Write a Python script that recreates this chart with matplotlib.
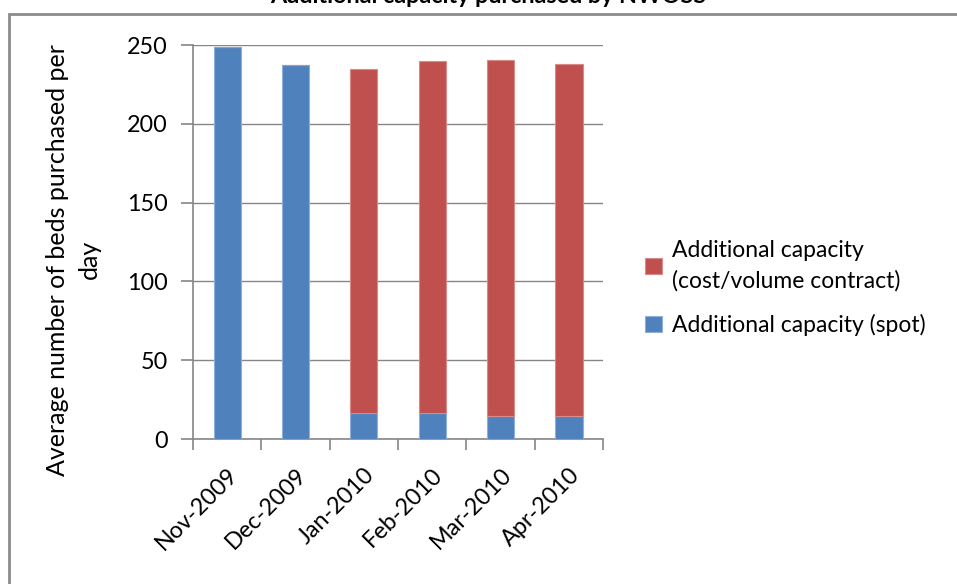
import numpy as np
import matplotlib.pyplot as plt
from matplotlib.patches import Rectangle

months = ['Nov-2009', 'Dec-2009', 'Jan-2010', 'Feb-2010', 'Mar-2010', 'Apr-2010']
spot = [248.5, 237.3, 16.3, 16.3, 14.8, 14.8]
contract = [0, 0, 218.3, 223.3, 225.7, 223.1]

blue = '#4F81BD'
red = '#C0504D'
grey = '#868686'
fs = 16.8

plt.rcParams['font.family'] = ['Lato', 'DejaVu Sans']

fig = plt.figure(figsize=(9.57, 5.84), dpi=100)
ax = fig.add_axes([193 / 957, 1 - 439 / 584, 410 / 957, 394 / 584])

x = np.arange(len(months))
ax.bar(x, spot, width=0.4, color=blue, edgecolor='#8fb0da', linewidth=0.8,
       label='Additional capacity (spot)', zorder=3)
ax.bar(x, contract, width=0.4, bottom=spot, color=red, edgecolor='#d88a88',
       linewidth=0.8, label='Additional capacity\n(cost/volume contract)', zorder=3)

ax.set_xlim(-0.5, len(months) - 0.5)
ax.set_ylim(0, 250)
ax.set_yticks(np.arange(0, 251, 50))
ax.yaxis.grid(True, color=grey, linewidth=1)
ax.set_axisbelow(True)

for side in ['top', 'right']:
    ax.spines[side].set_visible(False)
for side in ['left', 'bottom']:
    ax.spines[side].set_color(grey)
    ax.spines[side].set_linewidth(1.2)

# category labels at bar centres, tick marks between categories
ax.set_xticks(x)
ax.set_xticklabels(months, rotation=45, ha='right', rotation_mode='anchor')
ax.set_xticks(np.arange(-0.5, len(months)), minor=True)
ax.tick_params(axis='x', which='major', length=0, pad=18, labelsize=fs)
ax.tick_params(axis='x', which='minor', length=8, width=1.2, color=grey)
ax.tick_params(axis='y', length=9, width=1.2, color=grey, pad=9, labelsize=fs)

ax.set_ylabel('Average number of beds purchased per\nday', fontsize=18,
              linespacing=1.45)
ax.yaxis.set_label_coords(-0.225, 0.455)

handles, labels = ax.get_legend_handles_labels()
leg = fig.legend(handles[::-1], labels[::-1], loc='center left',
                 bbox_to_anchor=(624 / 957, 1 - 288 / 584), frameon=False,
                 handlelength=0.75, handleheight=0.7, handletextpad=0.45,
                 labelspacing=1.0, prop={'size': 16.5})
for t in leg.get_texts():
    t.set_linespacing(1.5)

# outer chart frame
fig.patches.append(Rectangle((9 / 957, -0.1), 1.2, 1 - 14.5 / 584 + 0.1,
                             transform=fig.transFigure, fill=False,
                             edgecolor='#8c8c8c', linewidth=2))

fig.text(0.51, 1 - 3 / 584, 'Additional capacity purchased by NWOSS',
         ha='center', va='baseline', fontsize=fs, fontweight='bold')

fig.savefig('out.png', dpi=100)
